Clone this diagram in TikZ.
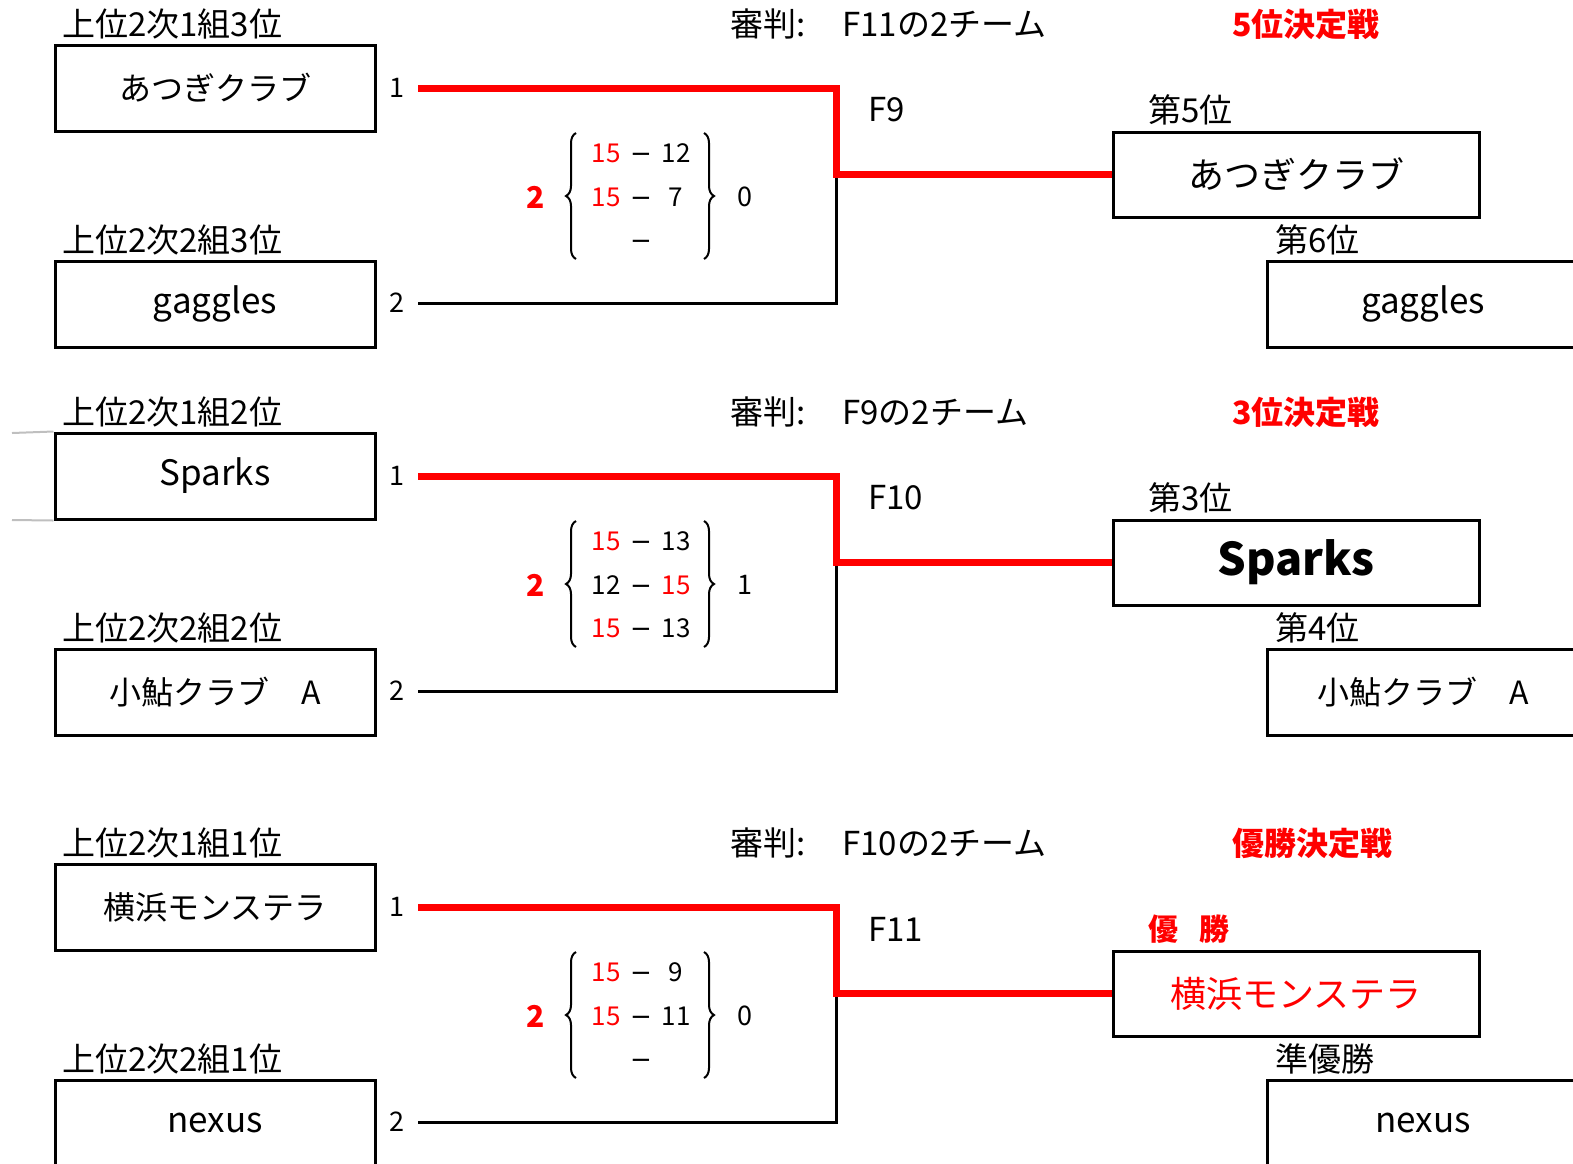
\documentclass[tikz,border=0pt]{standalone}
\usepackage{fontspec}
\setmainfont{Noto Sans CJK JP}
\newfontfamily\dashfont{DejaVu Sans}
\usetikzlibrary{decorations.pathreplacing}
\begin{document}
\begin{tikzpicture}[x=1pt,y=-1pt]
        \tikzstyle{team}=[draw=black,line width=3pt,minimum width=320pt,minimum height=86pt,inner sep=0pt,font=\fontsize{32}{36}\selectfont]
        \tikzstyle{latin}=[font=\fontsize{35}{38}\selectfont]
        \tikzstyle{winner}=[team,minimum width=366pt,minimum height=85pt,font=\fontsize{36}{40}\selectfont]
        \tikzstyle{loser}=[team,minimum width=312pt]
        \tikzstyle{caption}=[anchor=west,inner sep=0pt,font=\fontsize{33}{36}\selectfont]
        \tikzstyle{title}=[caption,text=red,font=\fontsize{32}{36}\selectfont\bfseries]
        \tikzstyle{seed}=[inner sep=0pt,font=\fontsize{27}{30}\selectfont]
        \tikzstyle{score}=[inner sep=0pt,text height=19pt,text depth=0pt,font=\fontsize{26}{28}\selectfont]
        \tikzstyle{total}=[inner sep=0pt,font=\fontsize{30}{34}\selectfont\bfseries]
        \tikzstyle{won}=[draw=red,line width=7pt]
        \tikzstyle{lost}=[draw=black,line width=3pt]
        \tikzstyle{bracebar}=[draw,decorate,decoration={brace,amplitude=10pt},line width=2pt]
        \newcommand{\dash}{{\dashfont −}}
        \clip (0,0) rectangle (1573,1163);
        \useasboundingbox (0,0) rectangle (1573,1166);
        % 5th place match
        \begin{scope}
           \node [caption] (c11) at (62,24) {上位2次1組3位};
           \node [team] (t11) at (215,88) {あつぎクラブ};
           \node [seed] (n11) at (397,88) {1};
           \node [caption] (c12) at (62,240) {上位2次2組3位};
           \node [team,latin] (t12) at (215,304) {gaggles};
           \node [seed] (n12) at (397,303) {2};
           \node [caption] (ref1) at (730,24) {審判:};
           \node [caption] (rt1) at (842,24) {F11の2チーム};
           \node [title] (m1) at (1232,24) {5位決定戦};
           \node [caption] (f1) at (868,110) {F9};
           \node [caption] (p1) at (1148,110) {第5位};
           \node [winner] (w1) at (1296,174.5) {あつぎクラブ};
           \node [caption] (q1) at (1275,240) {第6位};
           \node [loser,latin] (l1) at (1423,304) {gaggles};
           \coordinate (a11) at (418,88);
           \coordinate (a12) at (418,303);
           \coordinate (j1) at (836,174.5);
           \draw[lost] (a12) -| (j1);
           \draw[won] (a11) -| (j1) -- (w1.west);
           \node [total,text=red] (g11) at (536,197) {2};
           \node [total,font=\fontsize{27}{30}\selectfont] (g12) at (745,197) {0};
           \coordinate (bl1) at (576,259); \coordinate (bl2) at (576,133);
           \coordinate (br1) at (704,133); \coordinate (br2) at (704,259);
           \path[bracebar] (bl1) -- (bl2);
           \path[bracebar] (br1) -- (br2);
           \node [score,text=red] at (606,153) {15};
           \node [score] at (641,153) {\dash};
           \node [score] at (676,153) {12};
           \node [score,text=red] at (606,197) {15};
           \node [score] at (641,197) {\dash};
           \node [score] at (676,197) {7};
           \node [score] at (641,240) {\dash};
        \end{scope}
        % 3rd place match
        \begin{scope}[yshift=-388pt]
           \node [caption] (c21) at (62,24) {上位2次1組2位};
           \node [team,latin] (t21) at (215,88) {Sparks};
           \node [seed] (n21) at (397,88) {1};
           \node [caption] (c22) at (62,240) {上位2次2組2位};
           \node [team] (t22) at (215,304) {小鮎クラブ　A};
           \node [seed] (n22) at (397,303) {2};
           \coordinate (gl1) at (12,45);
           \coordinate (gl2) at (12,132);
           \draw[gray!50,line width=2pt] (gl1) -- (t21.north west);
           \draw[gray!50,line width=2pt] (gl2) -- (t21.south west);
           \node [caption] (ref2) at (730,24) {審判:};
           \node [caption] (rt2) at (842,24) {F9の2チーム};
           \node [title] (m2) at (1232,24) {3位決定戦};
           \node [caption] (f2) at (868,110) {F10};
           \node [caption] (p2) at (1148,110) {第3位};
           \node [winner,font=\fontsize{45}{48}\selectfont\bfseries] (w2) at (1296,174.5) {Sparks};
           \node [caption] (q2) at (1275,240) {第4位};
           \node [loser] (l2) at (1423,304) {小鮎クラブ　A};
           \coordinate (a21) at (418,88);
           \coordinate (a22) at (418,303);
           \coordinate (j2) at (836,174.5);
           \draw[lost] (a22) -| (j2);
           \draw[won] (a21) -| (j2) -- (w2.west);
           \node [total,text=red] (g21) at (536,197) {2};
           \node [total,font=\fontsize{27}{30}\selectfont] (g22) at (745,197) {1};
           \coordinate (bl3) at (576,259); \coordinate (bl4) at (576,133);
           \coordinate (br3) at (704,133); \coordinate (br4) at (704,259);
           \path[bracebar] (bl3) -- (bl4);
           \path[bracebar] (br3) -- (br4);
           \node [score,text=red] at (606,153) {15};
           \node [score] at (641,153) {\dash};
           \node [score] at (676,153) {13};
           \node [score] at (606,197) {12};
           \node [score] at (641,197) {\dash};
           \node [score,text=red] at (676,197) {15};
           \node [score,text=red] at (606,240) {15};
           \node [score] at (641,240) {\dash};
           \node [score] at (676,240) {13};
        \end{scope}
        % final
        \begin{scope}[yshift=-819pt]
           \node [caption] (c31) at (62,24) {上位2次1組1位};
           \node [team] (t31) at (215,88) {横浜モンステラ};
           \node [seed] (n31) at (397,88) {1};
           \node [caption] (c32) at (62,240) {上位2次2組1位};
           \node [team,latin] (t32) at (215,304) {nexus};
           \node [seed] (n32) at (397,303) {2};
           \node [caption] (ref3) at (730,24) {審判:};
           \node [caption] (rt3) at (842,24) {F10の2チーム};
           \node [title] (m3) at (1232,24) {優勝決定戦};
           \node [caption] (f3) at (868,110) {F11};
           \node [title,font=\fontsize{30}{34}\selectfont\bfseries] (p3) at (1148,110) {優\hspace{0.7em}勝};
           \node [winner,text=red] (w3) at (1296,174.5) {横浜モンステラ};
           \node [caption] (q3) at (1275,240) {準優勝};
           \node [loser,latin] (l3) at (1423,304) {nexus};
           \coordinate (a31) at (418,88);
           \coordinate (a32) at (418,303);
           \coordinate (j3) at (836,174.5);
           \draw[lost] (a32) -| (j3);
           \draw[won] (a31) -| (j3) -- (w3.west);
           \node [total,text=red] (g31) at (536,197) {2};
           \node [total,font=\fontsize{27}{30}\selectfont] (g32) at (745,197) {0};
           \coordinate (bl5) at (576,259); \coordinate (bl6) at (576,133);
           \coordinate (br5) at (704,133); \coordinate (br6) at (704,259);
           \path[bracebar] (bl5) -- (bl6);
           \path[bracebar] (br5) -- (br6);
           \node [score,text=red] at (606,153) {15};
           \node [score] at (641,153) {\dash};
           \node [score] at (676,153) {9};
           \node [score,text=red] at (606,197) {15};
           \node [score] at (641,197) {\dash};
           \node [score] at (676,197) {11};
           \node [score] at (641,240) {\dash};
        \end{scope}
\end{tikzpicture}
\end{document}
